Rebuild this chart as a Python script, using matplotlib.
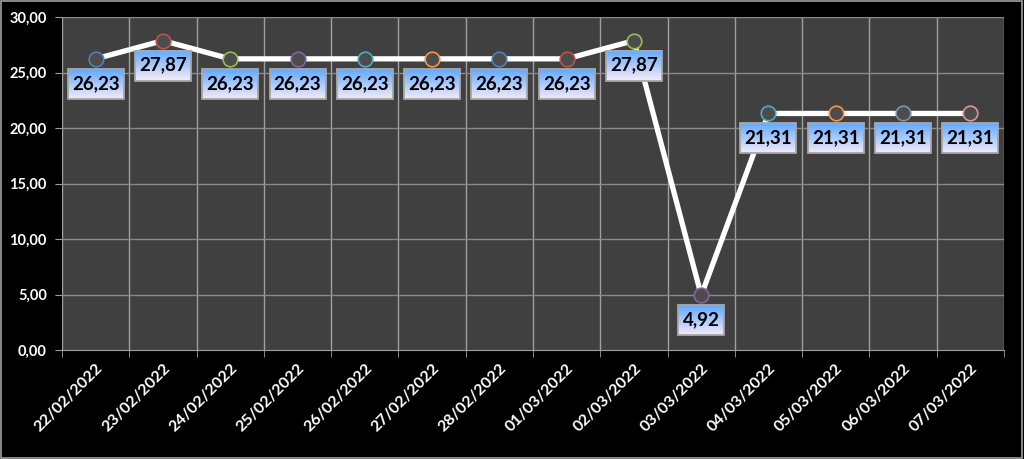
import matplotlib
matplotlib.use("Agg")
import matplotlib.pyplot as plt
import matplotlib.transforms as mtransforms
import numpy as np
from matplotlib.patches import Rectangle

dates = ["22/02/2022", "23/02/2022", "24/02/2022", "25/02/2022", "26/02/2022",
         "27/02/2022", "28/02/2022", "01/03/2022", "02/03/2022", "03/03/2022",
         "04/03/2022", "05/03/2022", "06/03/2022", "07/03/2022"]
values = [26.23, 27.87, 26.23, 26.23, 26.23, 26.23, 26.23, 26.23, 27.87, 4.92,
          21.31, 21.31, 21.31, 21.31]
ring_colors = ["#4F81BD", "#C0504D", "#9BBB59", "#8064A2", "#4BACC6", "#F79646",
               "#4F81BD", "#C0504D", "#9BBB59", "#8064A2", "#4BACC6", "#F79646",
               "#7F93AE", "#D49A94"]

plt.rcParams['font.family'] = ['Lato', 'DejaVu Sans']

fig = plt.figure(figsize=(10.24, 4.59), dpi=100)
fig.patch.set_facecolor("black")
fig.patches.append(Rectangle((0.001, 0.002), 0.997, 0.995, transform=fig.transFigure,
                             fill=False, edgecolor="#A0A0A0", linewidth=1.2))
ax = fig.add_axes([62/1024, 1-350/459, (1004-62)/1024, (350-17)/459])
ax.set_facecolor("#404040")

x = np.arange(len(dates))
ax.plot(x, values, color="white", linewidth=3.8, zorder=3)

top_c = np.array([0x5E, 0xA8, 0xFF]) / 255
bot_c = np.array([0xF4, 0xEA, 0xF6]) / 255
bh, gap = 0.30, 0.10   # inches (100 px per inch)
nstrips = 30
for xi, v, c in zip(x, values, ring_colors):
    ax.plot(xi, v, marker="o", markersize=10.5, markerfacecolor="#4c4c4c",
            markeredgecolor=c, markeredgewidth=1.2, zorder=4)
    txt = f"{v:.2f}".replace(".", ",")
    bw = 0.56 if len(txt) >= 5 else 0.46
    trans = fig.dpi_scale_trans + mtransforms.ScaledTranslation(xi, v, ax.transData)
    top = -gap
    for i in range(nstrips):
        t = (i + 0.5) / nstrips
        col = top_c * (1 - t) + bot_c * t
        y0 = top - bh * (i + 1) / nstrips
        ax.add_patch(Rectangle((-bw / 2, y0), bw, bh / nstrips + 0.002,
                               transform=trans, facecolor=col, edgecolor="none",
                               zorder=5, clip_on=False))
    ax.add_patch(Rectangle((-bw / 2, top - bh), bw, bh, transform=trans,
                           fill=False, edgecolor="#A8A8A8", linewidth=1.3,
                           zorder=6, clip_on=False))
    ax.text(0, top - bh / 2 + 0.005, txt, transform=trans,
            ha="center", va="center", fontsize=13.5, fontweight="bold",
            color="black", zorder=7)

ax.set_xlim(-0.5, len(dates) - 0.5)
ax.set_ylim(0, 30)
ax.set_yticks(np.arange(0, 31, 5))
ax.set_yticklabels([f"{t:.2f}".replace(".", ",") for t in np.arange(0, 31, 5)])
ax.set_xticks(x)
ax.set_xticklabels(dates, rotation=45, ha="right", rotation_mode="anchor")
ax.set_xticks(np.arange(-0.5, len(dates), 1), minor=True)

ax.grid(False)
for b in np.arange(-0.5, len(dates), 1):
    ax.axvline(b, color="#A0A0A0", linewidth=1, zorder=1)
for t in np.arange(5, 31, 5):
    ax.axhline(t, color="#8A8A8A", linewidth=1, zorder=1)

ax.tick_params(axis="x", which="major", length=0, colors="white", labelsize=11.5, pad=8)
ax.tick_params(axis="x", which="minor", length=5, color="#A0A0A0")
ax.tick_params(axis="y", length=5, color="#A0A0A0", colors="white", labelsize=10.5, pad=6)
for lbl in ax.get_xticklabels() + ax.get_yticklabels():
    lbl.set_fontweight("bold")
    lbl.set_color("white")
for s in ax.spines.values():
    s.set_visible(False)
ax.spines["bottom"].set_visible(True)
ax.spines["bottom"].set_color("#A0A0A0")

fig.savefig("out.png", dpi=100, facecolor=fig.get_facecolor())
